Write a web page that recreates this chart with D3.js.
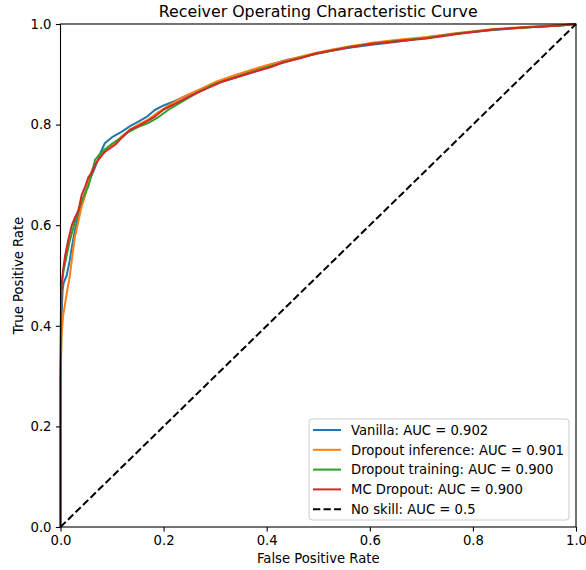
<!DOCTYPE html>
<html>
<head>
<meta charset="utf-8">
<script src="https://cdn.jsdelivr.net/npm/d3@7"></script>
<style>
  html, body { margin: 0; padding: 0; background: #fff; }
  svg { display: block; font-family: "DejaVu Sans", sans-serif; }
</style>
</head>
<body>
<svg id="chart" width="586" height="570"></svg>
<script>
// ---------- data ----------
const title = "Receiver Operating Characteristic Curve";
const xLabel = "False Positive Rate";
const yLabel = "True Positive Rate";
const xTicks = [0.0, 0.2, 0.4, 0.6, 0.8, 1.0];
const yTicks = [0.0, 0.2, 0.4, 0.6, 0.8, 1.0];

const seriesNames = [
  "Vanilla: AUC = 0.902",
  "Dropout inference: AUC = 0.901",
  "Dropout training: AUC = 0.900",
  "MC Dropout: AUC = 0.900"
];
const seriesColors = ["#1f77b4", "#ff7f0e", "#2ca02c", "#d62728"];

// [FPR, TPR] pairs
const vanilla = [[0,0],[0,0.28],[0.002,0.42],[0.004,0.47],[0.006,0.485],[0.012,0.50],[0.018,0.53],[0.022,0.557],[0.028,0.59],[0.035,0.624],[0.045,0.655],[0.054,0.684],[0.063,0.705],[0.073,0.73],[0.078,0.745],[0.086,0.763],[0.1,0.775],[0.119,0.786],[0.135,0.797],[0.151,0.806],[0.168,0.816],[0.183,0.829],[0.2,0.838],[0.22,0.846],[0.25,0.86],[0.28,0.873],[0.313,0.887],[0.345,0.897],[0.377,0.908],[0.41,0.92],[0.44,0.929],[0.47,0.935],[0.5,0.942],[0.53,0.948],[0.56,0.953],[0.6,0.958],[0.65,0.964],[0.71,0.973],[0.77,0.981],[0.84,0.988],[0.9,0.993],[0.97,0.997],[1,1]];
const dropoutInference = [[0,0],[0,0.27],[0.002,0.38],[0.005,0.42],[0.009,0.445],[0.013,0.47],[0.018,0.498],[0.023,0.54],[0.028,0.577],[0.035,0.61],[0.041,0.637],[0.048,0.66],[0.054,0.683],[0.061,0.71],[0.07,0.725],[0.08,0.74],[0.092,0.752],[0.106,0.765],[0.12,0.778],[0.135,0.79],[0.151,0.80],[0.17,0.81],[0.19,0.825],[0.21,0.838],[0.238,0.855],[0.27,0.87],[0.303,0.886],[0.335,0.897],[0.368,0.908],[0.4,0.918],[0.432,0.926],[0.465,0.935],[0.497,0.943],[0.53,0.95],[0.562,0.956],[0.6,0.962],[0.65,0.968],[0.71,0.974],[0.77,0.982],[0.84,0.99],[0.9,0.994],[0.97,0.998],[1,1]];
const dropoutTraining = [[0,0],[0,0.30],[0.001,0.44],[0.002,0.48],[0.006,0.51],[0.012,0.54],[0.017,0.565],[0.022,0.584],[0.03,0.615],[0.038,0.64],[0.046,0.66],[0.054,0.677],[0.06,0.70],[0.067,0.73],[0.075,0.74],[0.085,0.75],[0.1,0.762],[0.115,0.772],[0.13,0.784],[0.15,0.795],[0.17,0.803],[0.19,0.815],[0.21,0.83],[0.24,0.848],[0.27,0.866],[0.303,0.882],[0.335,0.892],[0.368,0.903],[0.4,0.914],[0.432,0.923],[0.465,0.933],[0.497,0.941],[0.53,0.948],[0.562,0.955],[0.6,0.96],[0.65,0.966],[0.71,0.972],[0.77,0.981],[0.84,0.989],[0.9,0.993],[0.97,0.997],[1,1]];
const mcDropout = [[0,0],[0,0.30],[0.001,0.42],[0.002,0.48],[0.005,0.51],[0.009,0.54],[0.015,0.57],[0.022,0.60],[0.028,0.615],[0.035,0.63],[0.041,0.66],[0.048,0.677],[0.054,0.695],[0.061,0.705],[0.067,0.72],[0.073,0.73],[0.085,0.745],[0.092,0.75],[0.106,0.76],[0.12,0.775],[0.135,0.79],[0.151,0.797],[0.165,0.805],[0.183,0.816],[0.20,0.83],[0.22,0.84],[0.248,0.855],[0.28,0.87],[0.313,0.885],[0.345,0.895],[0.377,0.905],[0.41,0.915],[0.432,0.924],[0.465,0.932],[0.497,0.942],[0.53,0.948],[0.562,0.954],[0.6,0.96],[0.65,0.965],[0.71,0.971],[0.77,0.98],[0.84,0.989],[0.9,0.993],[0.969,0.997],[1,1]];

const noSkillName = "No skill: AUC = 0.5";
const noSkill = [[0,0],[1,1]];

const seriesData = [vanilla, dropoutInference, dropoutTraining, mcDropout];

// ---------- layout ----------
const svg = d3.select("#chart");
const L = 60.5, R = 576, T = 24, B = 527;
const x = d3.scaleLinear().domain([0, 1]).range([L, R]);
const y = d3.scaleLinear().domain([0, 1]).range([B, T]);

const line = d3.line().x(d => x(d[0])).y(d => y(d[1]));
const LW = 2;
const DASH = "7.3,3.2";

// curves
const plot = svg.append("g");
seriesData.forEach((s, i) => {
  plot.append("path")
    .datum(s)
    .attr("d", line)
    .attr("fill", "none")
    .attr("stroke", seriesColors[i])
    .attr("stroke-width", LW)
    .attr("stroke-linejoin", "round");
});
plot.append("path")
  .datum(noSkill)
  .attr("d", line)
  .attr("fill", "none")
  .attr("stroke", "#000")
  .attr("stroke-width", LW)
  .attr("stroke-dasharray", DASH);

// axes
const fmt = d3.format(".1f");
const xAxis = svg.append("g").attr("transform", `translate(0,${B})`)
  .call(d3.axisBottom(x).tickValues(xTicks).tickFormat(fmt).tickSize(4.6).tickPadding(4.4));
const yAxis = svg.append("g").attr("transform", `translate(${L},0)`)
  .call(d3.axisLeft(y).tickValues(yTicks).tickFormat(fmt).tickSize(4.6).tickPadding(4.4));
[xAxis, yAxis].forEach(a => {
  a.select(".domain").remove();
  a.selectAll("line").attr("stroke", "#000").attr("stroke-width", 1.1);
  a.selectAll("text").attr("font-family", "DejaVu Sans").attr("font-size", 13.2).attr("fill", "#000");
});

// frame
svg.append("rect")
  .attr("x", L).attr("y", T).attr("width", R - L).attr("height", B - T)
  .attr("fill", "none").attr("stroke", "#000").attr("stroke-width", 1.1);

// title & labels
svg.append("text").attr("x", (L + R) / 2).attr("y", 17)
  .attr("text-anchor", "middle").attr("font-size", 15.8).text(title);
svg.append("text").attr("x", (L + R) / 2).attr("y", 563)
  .attr("text-anchor", "middle").attr("font-size", 13.2).text(xLabel);
svg.append("text").attr("transform", `translate(23,${(T + B) / 2}) rotate(-90)`)
  .attr("text-anchor", "middle").attr("font-size", 13.2).text(yLabel);

// legend
const lg = svg.append("g");
lg.append("rect")
  .attr("x", 309).attr("y", 419).attr("width", 260).attr("height", 101)
  .attr("rx", 3).attr("fill", "#fff").attr("fill-opacity", 0.8)
  .attr("stroke", "#cccccc").attr("stroke-width", 1);
const legendItems = seriesNames.map((n, i) => ({ name: n, color: seriesColors[i], dash: null }))
  .concat([{ name: noSkillName, color: "#000", dash: DASH }]);
legendItems.forEach((it, i) => {
  const yy = 430 + i * 19.8;
  lg.append("line").attr("x1", 313).attr("x2", 341).attr("y1", yy).attr("y2", yy)
    .attr("stroke", it.color).attr("stroke-width", LW)
    .attr("stroke-dasharray", it.dash);
  lg.append("text").attr("x", 351).attr("y", yy + 4.7)
    .attr("font-size", 13.2).text(it.name);
});
</script>
</body>
</html>
